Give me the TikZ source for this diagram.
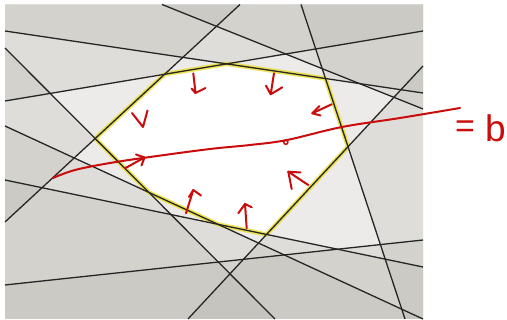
\documentclass[tikz,border=0pt]{standalone}
\usepackage{fontspec}
\newfontfamily\handfont{Liberation Sans}
\definecolor{zonecol}{RGB}{183,181,173}
\definecolor{glowcol}{RGB}{235,222,45}
\definecolor{penred}{RGB}{202,12,12}
\begin{document}
\begin{tikzpicture}[x=1pt,y=-1pt,
  zone/.style={fill=zonecol, fill opacity=0.26},
  ln/.style={draw=black!85, line width=1.3pt},
  glow/.style={draw=glowcol, line width=4.4pt, opacity=0.8, line join=round},
  pen/.style={draw=penred, line width=2pt, line cap=round, line join=round},
  hand/.style={text=penred, inner sep=0pt, font=\handfont}
]
\useasboundingbox (0,0) rectangle (507,320);
\fill[white] (0,0) rectangle (507,320);
% frame corners
\coordinate (TL) at (5,4.5);
\coordinate (TR) at (423,4.5);
\coordinate (BR) at (423,319);
\coordinate (BL) at (5,319);
% line end points
\coordinate (l1a) at (162,4.5);  \coordinate (l1b) at (423,109);
\coordinate (l2a) at (240,4.5);  \coordinate (l2b) at (5,222);
\coordinate (l3a) at (5,31);     \coordinate (l3b) at (423,93);
\coordinate (l4a) at (5,101);    \coordinate (l4b) at (423,31);
\coordinate (l5a) at (301,4.5);  \coordinate (l5b) at (405,319);
\coordinate (l6a) at (423,66);   \coordinate (l6b) at (188,319);
\coordinate (l7a) at (5,48);     \coordinate (l7b) at (275,319);
\coordinate (l8a) at (5,126);    \coordinate (l8b) at (423,319);
\coordinate (l9a) at (5,180);    \coordinate (l9b) at (423,267);
\coordinate (l10a) at (5,285);   \coordinate (l10b) at (423,240);
% shaded half planes
\begin{scope}
\clip (TL) rectangle (BR);
\fill[zone] (l1a) -- (l1b) -- (TR) -- cycle;
\fill[zone] (l2a) -- (l2b) -- (TL) -- cycle;
\fill[zone] (l3a) -- (l3b) -- (TR) -- (TL) -- cycle;
\fill[zone] (l4a) -- (l4b) -- (TR) -- (TL) -- cycle;
\fill[zone] (l5a) -- (l5b) -- (BR) -- (TR) -- cycle;
\fill[zone] (l6a) -- (l6b) -- (BR) -- cycle;
\fill[zone] (l7a) -- (l7b) -- (BL) -- cycle;
\fill[zone] (l8a) -- (l8b) -- (BL) -- cycle;
\fill[zone] (l9a) -- (l9b) -- (BR) -- (BL) -- cycle;
\fill[zone] (l10a) -- (l10b) -- (BR) -- (BL) -- cycle;
\end{scope}
% feasible polygon vertices
\coordinate (A) at (intersection of l2a--l2b and l7a--l7b);
\coordinate (B) at (intersection of l2a--l2b and l4a--l4b);
\coordinate (C) at (intersection of l4a--l4b and l3a--l3b);
\coordinate (D) at (intersection of l3a--l3b and l5a--l5b);
\coordinate (E) at (intersection of l5a--l5b and l6a--l6b);
\coordinate (F) at (intersection of l6a--l6b and l9a--l9b);
\coordinate (G) at (intersection of l9a--l9b and l8a--l8b);
\coordinate (H) at (intersection of l8a--l8b and l7a--l7b);
\draw[glow] (A) -- (B) -- (C) -- (D) -- (E) -- (F) -- (G) -- (H) -- cycle;
% lines
\foreach \i in {1,...,10} {\draw[ln] (l\i a) -- (l\i b);}
% red annotations
\draw[pen] plot[smooth, tension=0.6] coordinates {(53,178) (75,170) (110,163) (150,157) (210,149) (250,145) (287,140) (342,127) (400,118) (460,108)};
\draw[pen, line width=1.5pt] (285.8,142.2) circle (2.1);
% inward arrows
\draw[pen] (132,113) -- (143,127) -- (147.5,110.5);
\draw[pen] (193.3,73.3) -- (195.5,93) -- (205.5,88); \draw[pen] (191.5,88.5) -- (195.5,93);
\draw[pen] (274,73.3) -- (270.7,94.3) -- (282.3,87.3); \draw[pen] (266,85.7) -- (270.7,94.3);
\draw[pen] (331.7,104.3) -- (312.3,113.3) -- (320.5,115.5); \draw[pen] (312.3,113.3) -- (319.5,106);
\draw[pen] (308.3,185) -- (288.3,171.7) -- (300.5,172.5); \draw[pen] (288.3,171.7) -- (291.7,189);
\draw[pen] (246.7,228.3) -- (245,204) -- (251.7,207.3); \draw[pen] (238.3,213.3) -- (245,204);
\draw[pen] (186,213.3) -- (193.3,190) -- (201,195.5); \draw[pen] (189,197) -- (193.3,190);
\draw[pen] (125,168.3) -- (144.5,157.5) -- (141.5,165.5); \draw[pen] (136,154.5) -- (144.5,157.5);
% = b
\node[hand, font=\handfont\fontsize{34}{34}\selectfont] (eq) at (465,129.5) {=};
\node[hand, font=\handfont\fontsize{37}{37}\selectfont, anchor=base west] (bb) at (485,142) {b};
\end{tikzpicture}
\end{document}
